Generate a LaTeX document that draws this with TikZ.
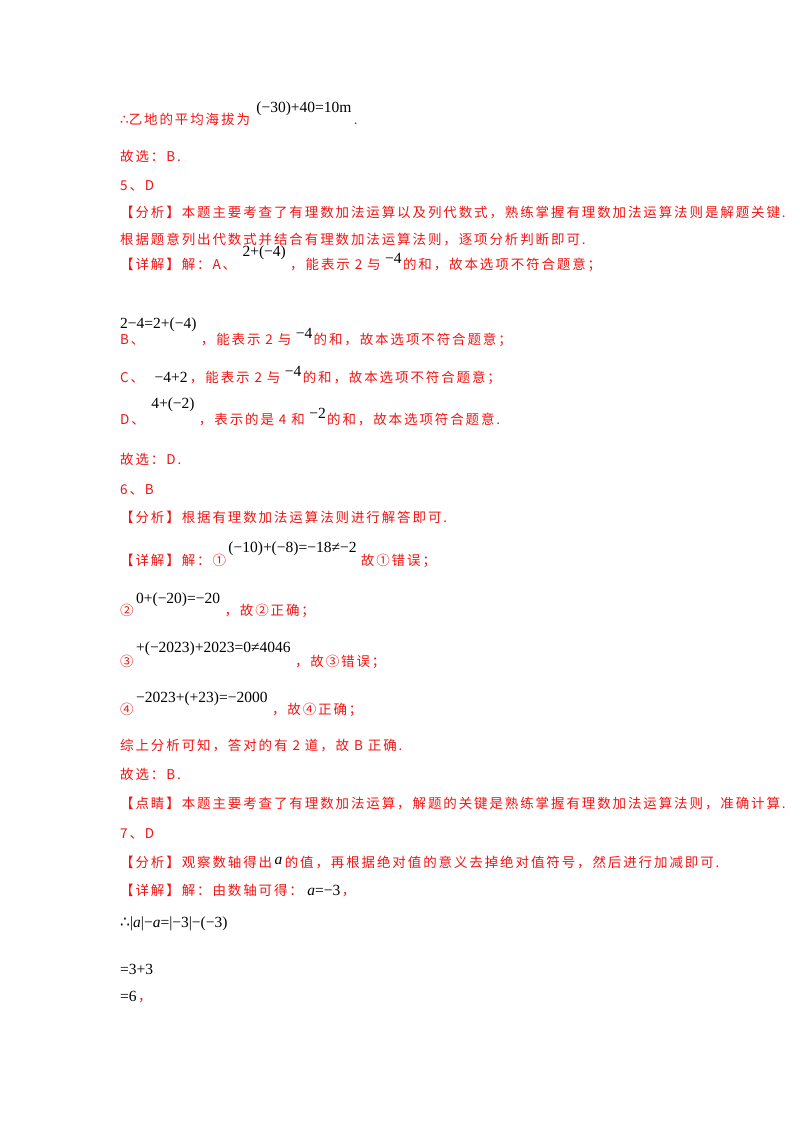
\documentclass[tikz,border=0pt]{standalone}
\usepackage{fontspec}
\usetikzlibrary{calc}
\setmainfont{Noto Sans CJK SC}[LetterSpace=14]
\newfontfamily\tm{Liberation Serif}
\newfontfamily\djv{DejaVu Sans}
\newcommand{\m}[1]{{\color{black}\tm\fontsize{15.5}{17}\selectfont #1}}
\definecolor{rd}{RGB}{240,20,20}
\begin{document}
\begin{tikzpicture}[x=1pt,y=-1pt,
  t/.style={anchor=base west,inner sep=0pt,text=rd,font=\fontsize{13.5}{15}\selectfont},
  mm/.style={anchor=base west,inner sep=0pt,text=black}]
\useasboundingbox (0,0) rectangle (800,1132);
\node[t] (l1) at (120,124) {{\djv ∴}乙地的平均海拔为};
\node[mm] (m1) at ($(l1.base east)+(6,-12)$) {\m{(−30)+40=10m}};
\node[t] (d1) at ($(m1.base east)+(2,12)$) {.};
\node[t] (l2) at (120,161) {故选：B.};
\node[t] (l3) at (120,190) {5、D};
\node[t] (l4) at (120,217) {【分析】本题主要考查了有理数加法运算以及列代数式，熟练掌握有理数加法运算法则是解题关键.};
\node[t] (l5) at (120,244) {根据题意列出代数式并结合有理数加法运算法则，逐项分析判断即可.};
\node[t] (l6) at (120,269) {【详解】解：A、};
\node[mm] (m6) at ($(l6.base east)+(6,-13)$) {\m{2+(−4)}};
\node[t] (l6b) at ($(m6.base east)+(4,13)$) {，能表示 2 与};
\node[mm] (m6b) at ($(l6b.base east)+(4,-6)$) {\m{−4}};
\node[t] (l6c) at ($(m6b.base east)+(1,6)$) {的和，故本选项不符合题意；};
\node[mm] (m7) at (120,328) {\m{2−4=2+(−4)}};
\node[t] (l7) at (120,344) {B、};
\node[t] (l7b) at ($(m7.base east)+(4,16)$) {，能表示 2 与};
\node[mm] (m7b) at ($(l7b.base east)+(4,-6)$) {\m{−4}};
\node[t] (l7c) at ($(m7b.base east)+(1,6)$) {的和，故本选项不符合题意；};
\node[t] (l8) at (120,382) {C、};
\node[mm] (m8) at ($(l8.base east)+(10,0)$) {\m{−4+2}};
\node[t] (l8b) at ($(m8.base east)+(2,0)$) {，能表示 2 与};
\node[mm] (m8b) at ($(l8b.base east)+(4,-6)$) {\m{−4}};
\node[t] (l8c) at ($(m8b.base east)+(1,6)$) {的和，故本选项不符合题意；};
\node[t] (l9) at (120,424) {D、};
\node[mm] (m9) at ($(l9.base east)+(6,-16)$) {\m{4+(−2)}};
\node[t] (l9b) at ($(m9.base east)+(4,16)$) {，表示的是 4 和};
\node[mm] (m9b) at ($(l9b.base east)+(4,-6)$) {\m{−2}};
\node[t] (l9c) at ($(m9b.base east)+(1,6)$) {的和，故本选项符合题意.};
\node[t] (l10) at (120,464) {故选：D.};
\node[t] (l11) at (120,494) {6、B};
\node[t] (l12) at (120,522) {【分析】根据有理数加法运算法则进行解答即可.};
\node[t] (l13) at (120,565) {【详解】解：①};
\node[mm] (m13) at ($(l13.base east)+(2,-13)$) {\m{(−10)+(−8)=−18≠−2}};
\node[t] (l13b) at ($(m13.base east)+(4,13)$) {故①错误；};
\node[t] (l14) at (120,615) {②};
\node[mm] (m14) at ($(l14.base east)+(2,-12)$) {\m{0+(−20)=−20}};
\node[t] (l14b) at ($(m14.base east)+(4,12)$) {，故②正确；};
\node[t] (l15) at (120,666) {③};
\node[mm] (m15) at ($(l15.base east)+(2,-14)$) {\m{+(−2023)+2023=0≠4046}};
\node[t] (l15b) at ($(m15.base east)+(4,14)$) {，故③错误；};
\node[t] (l16) at (120,714) {④};
\node[mm] (m16) at ($(l16.base east)+(2,-12)$) {\m{−2023+(+23)=−2000}};
\node[t] (l16b) at ($(m16.base east)+(4,12)$) {，故④正确；};
\node[t] (l17) at (120,750) {综上分析可知，答对的有 2 道，故 B 正确.};
\node[t] (l18) at (120,779) {故选：B.};
\node[t] (l19) at (120,808) {【点睛】本题主要考查了有理数加法运算，解题的关键是熟练掌握有理数加法运算法则，准确计算.};
\node[t] (l20) at (120,838) {7、D};
\node[t] (l21) at (120,867) {【分析】观察数轴得出};
\node[mm] (m21) at ($(l21.base east)+(2,-3)$) {\m{\itshape a}};
\node[t] (l21b) at ($(m21.base east)+(2,3)$) {的值，再根据绝对值的意义去掉绝对值符号，然后进行加减即可.};
\node[t] (l22) at (120,895) {【详解】解：由数轴可得：};
\node[mm] (m22) at ($(l22.base east)+(4,0)$) {\m{{\itshape a}=−3}};
\node[t] (l22b) at ($(m22.base east)+(1,0)$) {，};
\node[mm] (m23) at (120,927) {\m{{\djv ∴}|{\itshape a}|−{\itshape a}=|−3|−(−3)}};
\node[mm] (m24) at (120,974) {\m{=3+3}};
\node[mm] (m25) at (120,1001) {\m{=6}};
\node[t] (l25) at ($(m25.base east)+(1,0)$) {，};
\end{tikzpicture}
\end{document}
